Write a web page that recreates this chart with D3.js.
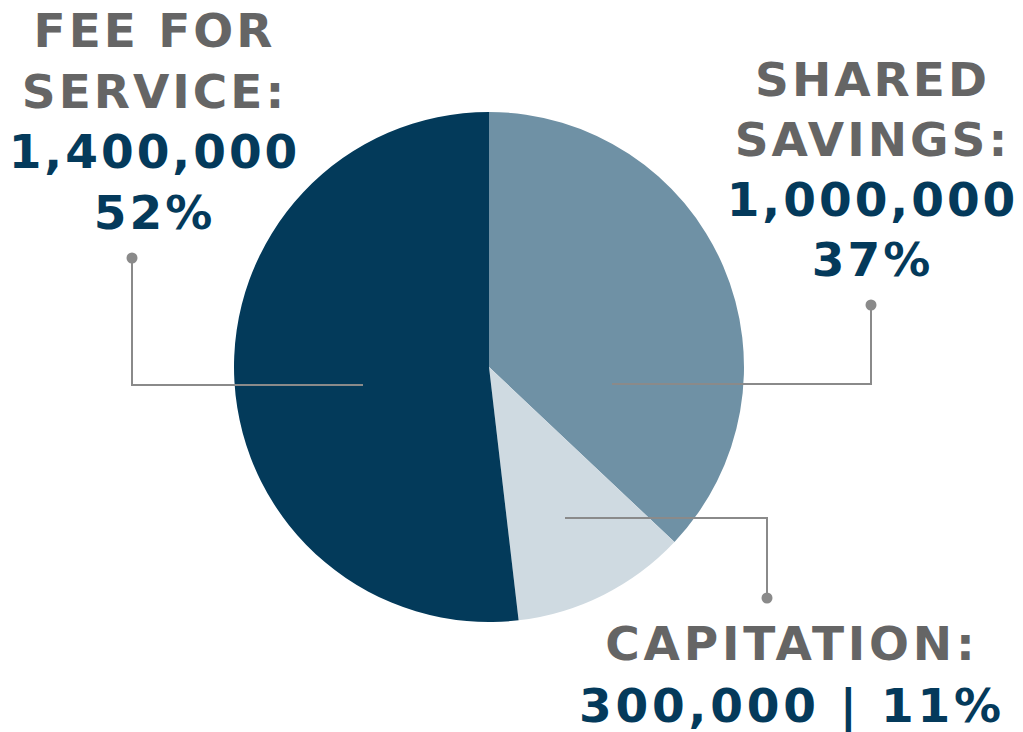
<!DOCTYPE html>
<html>
<head>
<meta charset="utf-8">
<script src="https://cdn.jsdelivr.net/npm/d3@7"></script>
<style>
  body { margin: 0; background: #fff; }
  svg { display: block; }
  .lbl { font-family: "DejaVu Sans", sans-serif; font-weight: bold; font-size: 47px; }
</style>
</head>
<body>
<svg id="chart" width="1023" height="732"></svg>
<script>
// data, in drawing order (clockwise from 12 o'clock)
var categories = ['Shared Savings', 'Capitation', 'Fee for Service'];
var titles = [['SHARED', 'SAVINGS:'], ['CAPITATION:'], ['FEE FOR', 'SERVICE:']];
var amounts = [1000000, 300000, 1400000];
var colors = ['#6f91a5', '#cfdae1', '#033a5a'];

// label placement (annotation layout only)
var labelLayout = [
    { x: 871, y: 96, step: 60, ls: 3, oneLine: false, leader: [[612, 384], [871, 384], [871, 305]] },
    { x: 790, y: 660, step: 62, ls: 3.8, oneLine: true, leader: [[565, 518], [767, 518], [767, 598]] },
    { x: 153, y: 47, step: 60.5, ls: 3, oneLine: false, leader: [[363, 385], [132, 385], [132, 258]] }
];

var cx = 489, cy = 367, radius = 255;
var grey = '#656565', navy = '#043a5b', lineGrey = '#8a8a8a';

var svg = d3.select('#chart');
var total = d3.sum(amounts);
var fmt = d3.format(',');

var pie = d3.pie()
    .sort(null)
    .value(function (d) { return d; });
var slices = pie(amounts);

var arc = d3.arc()
    .innerRadius(0)
    .outerRadius(radius);

svg.append('g')
    .attr('transform', 'translate(' + cx + ',' + cy + ')')
  .selectAll('path')
    .data(slices)
    .enter()
    .append('path')
        .attr('d', arc)
        .attr('fill', function (d, i) { return colors[i]; });

// leader lines
var line = d3.line();
svg.append('g').selectAll('path')
    .data(labelLayout)
    .enter()
    .append('path')
        .attr('d', function (d) { return line(d.leader); })
        .attr('fill', 'none')
        .attr('stroke', lineGrey)
        .attr('stroke-width', 2);

svg.append('g').selectAll('circle')
    .data(labelLayout)
    .enter()
    .append('circle')
        .attr('cx', function (d) { return d.leader[2][0]; })
        .attr('cy', function (d) { return d.leader[2][1]; })
        .attr('r', 5.5)
        .attr('fill', lineGrey);

// labels
labelLayout.forEach(function (lay, i) {
    var pct = Math.round(amounts[i] / total * 100) + '%';
    var rows = titles[i].map(function (t) { return { t: t, c: grey }; });
    if (lay.oneLine) {
        rows.push({ t: fmt(amounts[i]) + ' | ' + pct, c: navy });
    } else {
        rows.push({ t: fmt(amounts[i]), c: navy });
        rows.push({ t: pct, c: navy });
    }
    svg.append('g').selectAll('text')
        .data(rows)
        .enter()
        .append('text')
            .attr('class', 'lbl')
            .attr('x', lay.x + lay.ls / 2)
            .attr('y', function (d, j) { return lay.y + j * lay.step; })
            .attr('text-anchor', 'middle')
            .style('letter-spacing', lay.ls + 'px')
            .attr('fill', function (d) { return d.c; })
            .text(function (d) { return d.t; });
});
</script>
</body>
</html>
